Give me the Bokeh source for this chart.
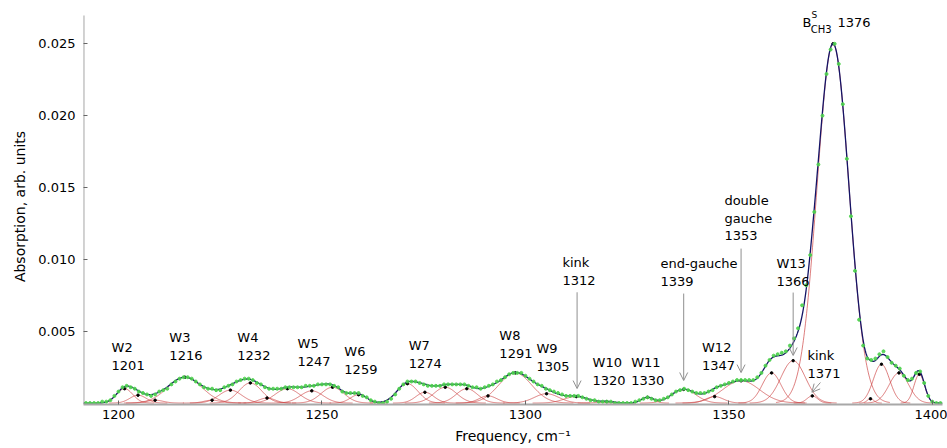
import numpy as np
from bokeh.plotting import figure
from bokeh.models import Label, Arrow, OpenHead, FixedTicker, PrintfTickFormatter, Range1d
from bokeh.embed import file_html
from bokeh.resources import INLINE

# ---- fitted component bands (centre cm-1, peak height, gaussian sigma cm-1)
band_center = [1201.5, 1204.8, 1209.0, 1216.3, 1223.0, 1227.5, 1232.4, 1236.5, 1241.5,
               1247.5, 1252.6, 1259.0, 1271.0, 1275.3, 1280.3, 1285.6, 1290.8, 1297.5,
               1305.2, 1312.5, 1320.0, 1330.0, 1338.9, 1346.5, 1353.0, 1360.5, 1365.8,
               1370.5, 1375.6, 1384.8, 1387.5, 1391.8, 1396.8]
band_height = [0.00100, 0.00055, 0.00020, 0.00180, 0.00020, 0.00090, 0.00140, 0.00035, 0.00100,
               0.00085, 0.00110, 0.00058, 0.00135, 0.00075, 0.00110, 0.00100, 0.00050, 0.00210,
               0.00065, 0.00045, 0.00010, 0.00040, 0.00095, 0.00045, 0.00155, 0.00210, 0.00295,
               0.00050, 0.02500, 0.00030, 0.00270, 0.00210, 0.00200]
band_sigma = [2.0, 2.0, 2.0, 4.2, 2.0, 2.8, 2.8, 2.0, 3.0,
              2.8, 2.8, 2.0, 2.6, 2.2, 2.8, 2.6, 2.2, 4.0,
              3.0, 3.0, 2.0, 1.5, 3.0, 2.2, 4.5, 2.3, 3.0,
              1.3, 3.9, 0.8, 2.0, 2.4, 1.3]

# ---- measured spectrum points, 1 cm-1 step from 1192 to 1402
freq_meas = list(range(1192, 1403))
abs_meas = [
    0.0000, 0.0000, 0.0000, 0.0000, 0.0001, 0.0001, 0.0002, 0.0005, 0.0008, 0.0011,   # 1192-1201
    0.0012, 0.0011, 0.0010, 0.0008, 0.0007, 0.0006, 0.0005, 0.0006, 0.0008, 0.0009,   # 1202-1211
    0.0010, 0.0013, 0.0015, 0.0017, 0.0018, 0.0018, 0.0017, 0.0015, 0.0013, 0.0011,   # 1212-1221
    0.0010, 0.0010, 0.0009, 0.0009, 0.0011, 0.0012, 0.0013, 0.0015, 0.0016, 0.0017,   # 1222-1231
    0.0017, 0.0016, 0.0014, 0.0013, 0.0011, 0.0010, 0.0010, 0.0010, 0.0010, 0.0011,   # 1232-1241
    0.0011, 0.0011, 0.0011, 0.0011, 0.0012, 0.0012, 0.0012, 0.0013, 0.0013, 0.0013,   # 1242-1251
    0.0013, 0.0012, 0.0011, 0.0008, 0.0007, 0.0007, 0.0007, 0.0007, 0.0005, 0.0004,   # 1252-1261
    0.0002, 0.0001, 0.0000, 0.0000, 0.0001, 0.0003, 0.0006, 0.0010, 0.0013, 0.0015,   # 1262-1271
    0.0015, 0.0015, 0.0014, 0.0013, 0.0012, 0.0012, 0.0012, 0.0012, 0.0013, 0.0013,   # 1272-1281
    0.0013, 0.0013, 0.0013, 0.0013, 0.0012, 0.0011, 0.0011, 0.0010, 0.0011, 0.0012,   # 1282-1291
    0.0013, 0.0015, 0.0016, 0.0018, 0.0020, 0.0021, 0.0021, 0.0021, 0.0019, 0.0017,   # 1292-1301
    0.0015, 0.0013, 0.0012, 0.0010, 0.0009, 0.0008, 0.0007, 0.0006, 0.0005, 0.0005,   # 1302-1311
    0.0005, 0.0005, 0.0004, 0.0003, 0.0002, 0.0002, 0.0001, 0.0001, 0.0001, 0.0001,   # 1312-1321
    0.0000, 0.0000, 0.0000, 0.0000, 0.0000, 0.0001, 0.0002, 0.0003, 0.0004, 0.0003,   # 1322-1331
    0.0002, 0.0002, 0.0003, 0.0004, 0.0006, 0.0008, 0.0009, 0.0010, 0.0009, 0.0008,   # 1332-1341
    0.0007, 0.0007, 0.0007, 0.0008, 0.0009, 0.0011, 0.0012, 0.0013, 0.0014, 0.0015,   # 1342-1351
    0.0016, 0.0016, 0.0016, 0.0016, 0.0016, 0.0018, 0.0021, 0.0026, 0.0030, 0.0033,   # 1352-1361
    0.0034, 0.0035, 0.0036, 0.0040, 0.0045, 0.0052, 0.0068, 0.0082, 0.0103, 0.0133,   # 1362-1371
    0.0166, 0.0200, 0.0229, 0.0246, 0.0250, 0.0236, 0.0208, 0.0170, 0.0130, 0.0092,   # 1372-1381
    0.0058, 0.0040, 0.0031, 0.0030, 0.0031, 0.0034, 0.0036, 0.0032, 0.0028, 0.0026,   # 1382-1391
    0.0024, 0.0019, 0.0016, 0.0017, 0.0021, 0.0022, 0.0014, 0.0005, 0.0001, 0.0000,   # 1392-1401
    0.0000]                                                                             # 1402

x_ticks = [1200, 1250, 1300, 1350, 1400]
y_ticks = [0.005, 0.010, 0.015, 0.020, 0.025]

FONT = "DejaVu Sans"
RED = "#cc4040"
NAVY = "#141466"
GREEN = "#4cd24c"
ARROW = "#8f8f8f"

X0, X1 = 1191.4, 1402.5
Y0, Y1 = -0.0001, 0.027457
Y_AXIS_TOP = 0.02697

p = figure(width=947, height=448, output_backend="svg", toolbar_location=None,
           x_range=Range1d(X0, X1), y_range=Range1d(Y0, Y1),
           min_border_left=83, min_border_right=5, min_border_top=8, min_border_bottom=44)
p.outline_line_color = None
p.xgrid.visible = False
p.ygrid.visible = False
p.background_fill_color = "white"

grid = np.linspace(X0, X1, 1600)
total = np.zeros_like(grid)
for c, h, s in zip(band_center, band_height, band_sigma):
    g = h * np.exp(-(grid - c) ** 2 / (2 * s * s))
    total += g
    m = np.abs(grid - c) <= 3.6 * s
    p.line(grid[m], g[m], line_color=RED, line_width=0.8, line_alpha=0.85)

p.scatter(band_center, band_height, size=2.5, color="black")
p.line(grid, total, line_color=NAVY, line_width=1.3)
p.scatter(freq_meas, abs_meas, size=3, color=GREEN, line_color=GREEN, alpha=0.9)

# y axis line drawn only up to the axis top (frame is a bit taller for the top label)
p.segment(x0=[X0 + 0.08], y0=[Y0], x1=[X0 + 0.08], y1=[Y_AXIS_TOP], line_color="#777777", line_width=1)

for ax in (p.xaxis[0], p.yaxis[0]):
    ax.major_tick_in = 4
    ax.major_tick_out = 0
    ax.minor_tick_line_color = None
    ax.major_label_text_font = FONT
    ax.major_label_text_font_size = "13px"
    ax.major_label_text_color = "black"
    ax.major_tick_line_color = "#666666"
    ax.axis_label_text_font = FONT
    ax.axis_label_text_font_size = "14px"
    ax.axis_label_text_font_style = "normal"
    ax.axis_label_text_color = "black"
p.xaxis.ticker = FixedTicker(ticks=x_ticks)
p.yaxis.ticker = FixedTicker(ticks=y_ticks)
p.yaxis.formatter = PrintfTickFormatter(format="%.3f")
p.xaxis.axis_line_color = "#a8a8a8"
p.xaxis.axis_line_width = 2
p.yaxis.axis_line_color = None
p.xaxis.major_label_standoff = 5
p.yaxis.major_label_standoff = 8
p.yaxis.axis_label = "Absorption, arb. units"
p.yaxis.axis_label_standoff = 7
p.xaxis.axis_label = "Frequency, cm\u207b\u00b9"
p.xaxis.axis_label_standoff = 6


def lab(x, y, t, size="13px", align="left"):
    p.add_layout(Label(x=x, y=y, text=t, text_font=FONT, text_font_size=size,
                       text_baseline="middle", text_align=align, text_color="black"))


# band labels (two lines)
band_labels = [("W2", "1201", 1198.3, 0.00386), ("W3", "1216", 1212.5, 0.00456),
               ("W4", "1232", 1229.2, 0.00456), ("W5", "1247", 1244.0, 0.00414),
               ("W6", "1259", 1255.5, 0.00358), ("W7", "1274", 1271.3, 0.00400),
               ("W8", "1291", 1293.6, 0.00470), ("W9", "1305", 1302.7, 0.00379),
               ("W10", "1320", 1316.5, 0.00282), ("W11", "1330", 1326.0, 0.00282),
               ("W12", "1347", 1343.4, 0.00386), ("kink", "1312", 1309.1, 0.00978),
               ("end-gauche", "1339", 1333.2, 0.00971), ("W13", "1366", 1361.7, 0.00971),
               ("kink", "1371", 1369.3, 0.00331)]
LS = 0.00122
for a, b, x, y in band_labels:
    lab(x, y, a)
    lab(x, y - LS, b)

lab(1348.9, 0.01409, "double")
lab(1348.9, 0.01409 - LS, "gauche")
lab(1348.9, 0.01409 - 2 * LS, "1353")

# B^S_CH3 1376
lab(1368.1, 0.02648, "B")
lab(1370.3, 0.02700, "S", size="9px")
lab(1370.1, 0.02600, "CH3", size="10px")
lab(1376.7, 0.02650, "1376")

# arrows
arrows = [(1312.7, 0.00771, 1312.7, 0.00101), (1338.9, 0.00762, 1338.9, 0.00157),
          (1353.0, 0.01075, 1353.0, 0.00212), (1365.8, 0.00769, 1365.8, 0.00331),
          (1372.5, 0.00143, 1370.4, 0.00075)]
for xs, ys, xe, ye in arrows:
    p.add_layout(Arrow(end=OpenHead(size=8, line_color=ARROW, line_width=1),
                       x_start=xs, y_start=ys, x_end=xe, y_end=ye,
                       line_color=ARROW, line_width=1))

open("out.html", "w").write(file_html(p, INLINE))
